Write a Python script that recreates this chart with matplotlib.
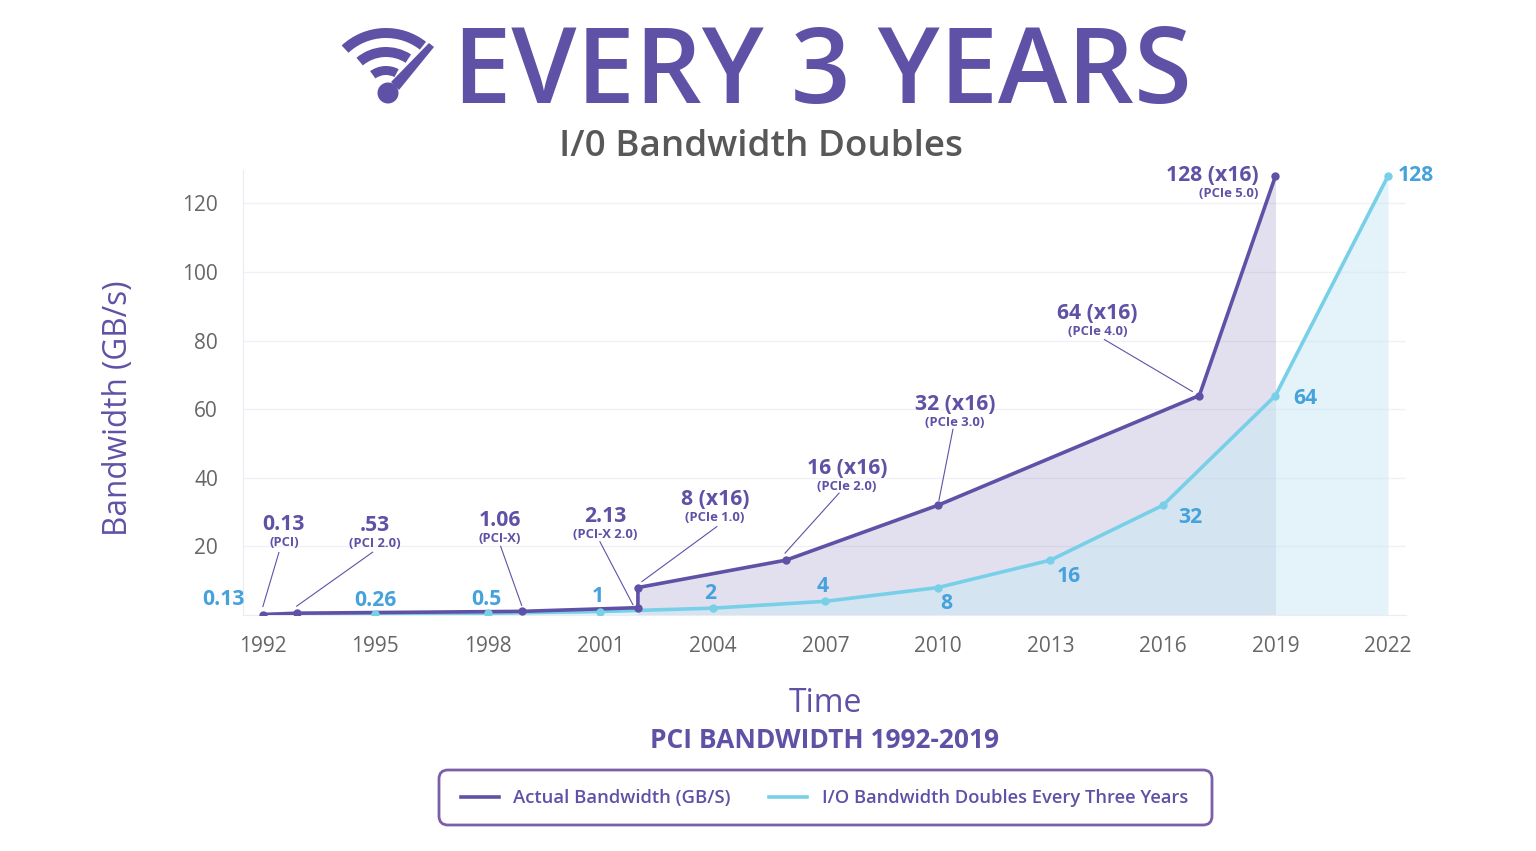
import numpy as np
import matplotlib
matplotlib.use("Agg")
import matplotlib.pyplot as plt
from matplotlib.patches import FancyBboxPatch, Wedge, Circle, Polygon

plt.rcParams["font.family"] = ["Open Sans", "DejaVu Sans"]

PURPLE = "#5f52a6"
BLUE = "#78d0e8"
LABEL_BLUE = "#45a2dc"
GREY = "#666666"

# data
actual_years = [1992, 1992.9, 1998.9, 2002, 2002, 2005.95, 2010, 2016.97, 2019]
actual_bw = [0.13, 0.53, 1.06, 2.13, 8, 16, 32, 64, 128]
doubling_years = [1992, 1995, 1998, 2001, 2004, 2007, 2010, 2013, 2016, 2019, 2022]
doubling_bw = [0.13, 0.26, 0.5, 1, 2, 4, 8, 16, 32, 64, 128]
doubling_labels = ["0.13", "0.26", "0.5", "1", "2", "4", "8", "16", "32", "64", "128"]
x_ticks = [1992, 1995, 1998, 2001, 2004, 2007, 2010, 2013, 2016, 2019, 2022]
y_ticks = [20, 40, 60, 80, 100, 120]

fig = plt.figure(figsize=(15.36, 8.51), dpi=100, facecolor="white")
ax = fig.add_axes([243 / 1536, 1 - 615 / 851, (1406 - 243) / 1536, (615 - 169.5) / 851])
ax.set_xlim(1991.47, 2022.48)
ax.set_ylim(0, 129.9)

# fills, purple one only from the PCIe step onward
ax.fill_between(actual_years[4:], actual_bw[4:], 0, color="#7f74b8", alpha=0.22, lw=0, zorder=1)
ax.fill_between(doubling_years, doubling_bw, 0, color="#c9e8f4", alpha=0.5, lw=0, zorder=1)

ax.plot(doubling_years, doubling_bw, color=BLUE, lw=2.6, zorder=3)
ax.plot(actual_years, actual_bw, color=PURPLE, lw=2.6, marker="o", ms=5, zorder=4)
# blue markers sit on top of the purple line, except the shared first point
ax.plot(doubling_years[1:], doubling_bw[1:], ls="none", color=BLUE, marker="o", ms=5, zorder=5)

ax.set_xticks(x_ticks)
ax.set_yticks(y_ticks)
ax.tick_params(length=0, labelsize=15, labelcolor=GREY)
ax.tick_params(axis="x", pad=15)
ax.tick_params(axis="y", pad=18)
ax.grid(axis="y", color="#f0f0f8", lw=1)
ax.set_axisbelow(True)
for side in ["top", "right"]:
    ax.spines[side].set_visible(False)
for side in ["left", "bottom"]:
    ax.spines[side].set_color("#ebebf2")


def callout(idx, value, gen, lx, ly, ha="center"):
    # lx, ly = pixel offset of the label from the marker
    x, y = actual_years[idx], actual_bw[idx]
    ax.annotate(value, (x, y), xytext=(lx, ly), textcoords="offset pixels", ha=ha, va="center",
                fontsize=15.2, fontweight="bold", color=PURPLE, zorder=6)
    ax.annotate(gen, (x, y), xytext=(lx, ly - 18), textcoords="offset pixels", ha=ha, va="center",
                fontsize=9.4, fontweight="bold", color=PURPLE, zorder=6)


def leader(idx, start, end):
    x, y = actual_years[idx], actual_bw[idx]
    start_px = ax.transData.transform((x, y)) + np.array(start)
    end_px = ax.transData.transform((x, y)) + np.array(end)
    ax.plot(*ax.transData.inverted().transform([start_px, end_px]).T, color=PURPLE, lw=0.8, zorder=2)


callout(0, "0.13", "(PCI)", 21, 90)
leader(0, (16, 62), (0, 8))
callout(1, ".53", "(PCI 2.0)", 78, 88)
leader(1, (76, 61), (0, 7))
callout(2, "1.06", "(PCI-X)", -22, 91)
leader(2, (-21, 65), (0, 6))
callout(3, "2.13", "(PCI-X 2.0)", -33, 91)
leader(3, (-38, 66), (-5, 3))
callout(4, "8 (x16)", "(PCIe 1.0)", 77, 88)
leader(4, (79, 61), (4, 6))
callout(5, "16 (x16)", "(PCIe 2.0)", 61, 92)
leader(5, (53, 67), (-1, 7))
callout(6, "32 (x16)", "(PCIe 3.0)", 17, 101)
leader(6, (15, 76), (1, 5))
callout(7, "64 (x16)", "(PCIe 4.0)", -102, 82)
leader(7, (-95, 56), (-7, 4))
callout(8, "128 (x16)", "(PCIe 5.0)", -17, 1, ha="right")

label_offsets = [(-39, 15), (0, 14), (-2, 14), (-3, 15), (-3, 15), (-3, 15), (8, -16), (18, -16), (27, -12), (30, -3), (28, 1)]
for yr, val, txt, off in zip(doubling_years, doubling_bw, doubling_labels, label_offsets):
    ax.annotate(txt, (yr, val), xytext=off, textcoords="offset pixels", ha="center", va="center",
                fontsize=15.2, fontweight="bold", color=LABEL_BLUE, zorder=6)

# overlay in image pixels for titles, icon and legend box
ov = fig.add_axes([0, 0, 1, 1], facecolor="none")
ov.set_xlim(0, 1536)
ov.set_ylim(851, 0)
ov.axis("off")

ov.text(822, 75, "EVERY 3 YEARS", ha="center", va="center", fontsize=75.3, fontweight="semibold", color=PURPLE)
ov.text(761, 147, "I/0 Bandwidth Doubles", ha="center", va="center", fontsize=26.5, fontweight="semibold", color="#58585a")
ov.text(118, 408, "Bandwidth (GB/s)", rotation=90, ha="center", va="center", fontsize=22.7, color=PURPLE)
ov.text(825, 703, "Time", ha="center", va="center", fontsize=23, color=PURPLE)
ov.text(825, 741, "PCI BANDWIDTH 1992-2019", ha="center", va="center", fontsize=19, fontweight="bold", color=PURPLE)

# wifi / gauge icon
for r, w, t1, t2 in [(65, 10, -133, -52), (46, 10, -130, -57), (27, 9, -126, -62)]:
    ov.add_patch(Wedge((386, 93), r, t1, t2, width=w, color=PURPLE, lw=0))
ov.add_patch(Circle((388, 93), 10.5, color=PURPLE, lw=0))
ov.add_patch(Polygon([(391, 82), (399, 90), (434, 47), (429, 43)], closed=True, color=PURPLE, lw=0))

# legend
ov.add_patch(FancyBboxPatch((439, 770), 773, 55, boxstyle="round,pad=0,rounding_size=9",
                            fc="white", ec="#7c5fa9", lw=2))
ov.plot([461, 499], [797, 797], color=PURPLE, lw=2.6)
ov.text(513, 798, "Actual Bandwidth (GB/S)", ha="left", va="center", fontsize=13.3, fontweight="semibold", color=PURPLE)
ov.plot([769, 807], [797, 797], color=BLUE, lw=2.6)
ov.text(822, 798, "I/O Bandwidth Doubles Every Three Years", ha="left", va="center", fontsize=13.25, fontweight="semibold", color=PURPLE)

fig.savefig("out.png", dpi=100)
